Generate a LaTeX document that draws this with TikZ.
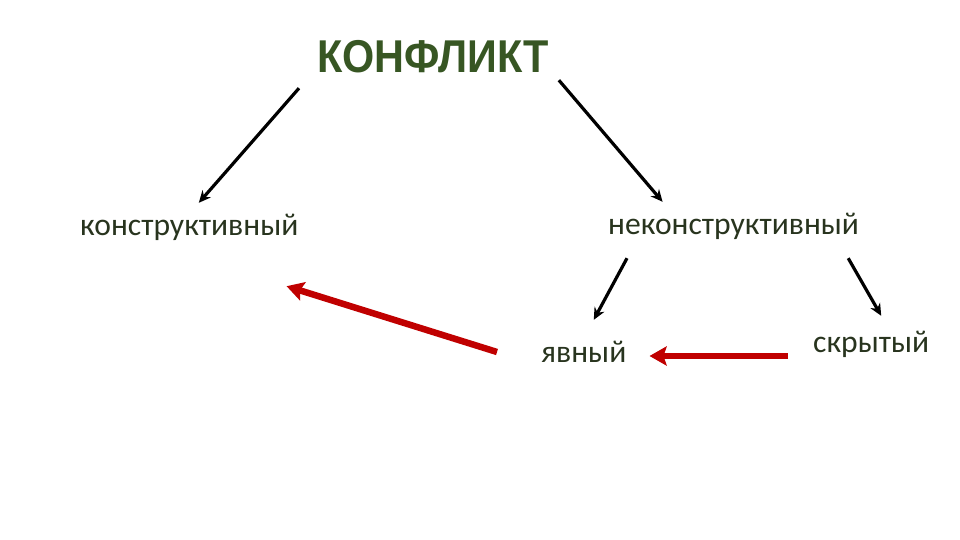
\documentclass[tikz,border=0pt]{standalone}
\usepackage{fontspec}
\setmainfont{Carlito}
\newfontfamily\titlefont{Liberation Sans}
\usetikzlibrary{arrows.meta}
\definecolor{titlegreen}{RGB}{55,86,35}
\definecolor{labelgreen}{RGB}{40,52,30}
\definecolor{darkred}{RGB}{192,0,0}
\tikzset{
    word/.style={anchor=base west, inner sep=0, text height=22, text depth=7,
        text=labelgreen, font=\fontsize{31.6}{32}\selectfont},
    blackarrow/.style={draw=black, line width=3.2pt,
        -{Stealth[length=12pt,width=11pt]}},
    redarrow/.style={draw=darkred, line width=6.5pt,
        -{Stealth[length=17pt,width=19pt,inset=3pt]}}
}
\begin{document}
\begin{tikzpicture}[x=1pt, y=-1pt]
    \useasboundingbox[fill=white] (0, 0) rectangle (960, 540);
    \node[anchor=base west, inner sep=0, text height=35, text depth=2,
        text=titlegreen, font=\titlefont\bfseries\fontsize{46}{46}\selectfont,
        xscale=0.9]
        (konflikt) at (317, 73) {КОНФЛИКТ};
    \node[word] (konstr) at (80, 235) {конструктивный};
    \node[word] (nekonstr) at (608, 234) {неконструктивный};
    \node[word] (yavny) at (541, 362) {явный};
    \node[word] (skryty) at (813, 352) {скрытый};
    \draw[blackarrow]
        ([xshift=-18, yshift=-13]konflikt.south west) --
        ([xshift=9.5, yshift=10]konstr.north);
    \draw[blackarrow]
        ([xshift=10, yshift=-5]konflikt.south east) --
        ([xshift=-71, yshift=10]nekonstr.north);
    \draw[blackarrow]
        ([xshift=19, yshift=-17]nekonstr.south west) --
        ([xshift=10, yshift=20]yavny.north);
    \draw[blackarrow]
        ([xshift=-11, yshift=-17]nekonstr.south east) --
        ([xshift=10, yshift=14]skryty.north);
    \draw[redarrow]
        ([xshift=-44, yshift=2.5]yavny.west) --
        ([xshift=-12, yshift=-44]konstr.south east);
    \draw[redarrow]
        ([xshift=-25, yshift=-11.5]skryty.west) --
        ([xshift=23, yshift=-1.5]yavny.east);
\end{tikzpicture}
\end{document}
